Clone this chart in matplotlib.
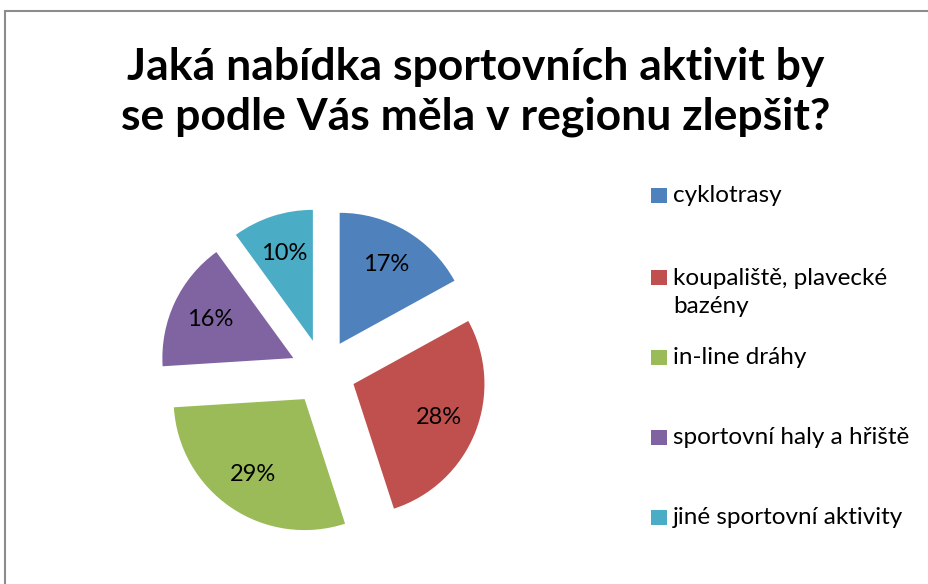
import matplotlib.pyplot as plt
from matplotlib.patches import Rectangle

# Data
categories = ["cyklotrasy", "koupaliště, plavecké\nbazény", "in-line dráhy",
              "sportovní haly a hřiště", "jiné sportovní aktivity"]
shares = [17, 28, 29, 16, 10]
colors = ["#4F81BD", "#C0504D", "#9BBB59", "#8064A2", "#4BACC6"]
title = "Jaká nabídka sportovních aktivit by\nse podle Vás měla v regionu zlepšit?"

W, H = 929, 584
plt.rcParams['font.family'] = ['Lato', 'DejaVu Sans']

fig = plt.figure(figsize=(W / 100, H / 100), dpi=100)

# chart frame (only left and top edges visible in the crop)
fig.add_artist(Rectangle((5 / W, -0.1), 1.2, (H - 11) / H + 0.1,
                         transform=fig.transFigure, fill=False,
                         edgecolor="#8c8c8c", linewidth=1.5))

# pie axes: centre at (323, 372) px, radius 131 px
cx, cy, r, half = 323, 372, 131, 200
ax = fig.add_axes([(cx - half) / W, (H - cy - half) / H, 2 * half / W, 2 * half / H])
ax.pie(shares, colors=colors, startangle=90, counterclock=False,
       explode=[0.25] * len(shares), autopct='%1.0f%%', pctdistance=0.7,
       textprops=dict(fontsize=17, color="black"))
ax.set_xlim(-half / r, half / r)
ax.set_ylim(-half / r, half / r)
ax.set_aspect('equal')
ax.axis('off')

fig.text(476 / W, 1 - 92 / H, title, ha='center', va='center',
         fontsize=32, fontweight='bold', linespacing=1.27)

# legend: marker square + label, positions as in the original chart
legend_y = [195, 277, 357, 437, 517]
for name, col, y in zip(categories, colors, legend_y):
    fig.add_artist(Rectangle((651 / W, 1 - (y + 8) / H), 16 / W, 15 / H,
                             transform=fig.transFigure, facecolor=col, edgecolor='none'))
    n_lines = name.count("\n") + 1
    y_mid = y + (n_lines - 1) * 31 / 2
    fig.text(673 / W, 1 - y_mid / H, name, ha='left', va='center',
             fontsize=17.5, linespacing=1.4)

fig.savefig("out.png", dpi=100)
